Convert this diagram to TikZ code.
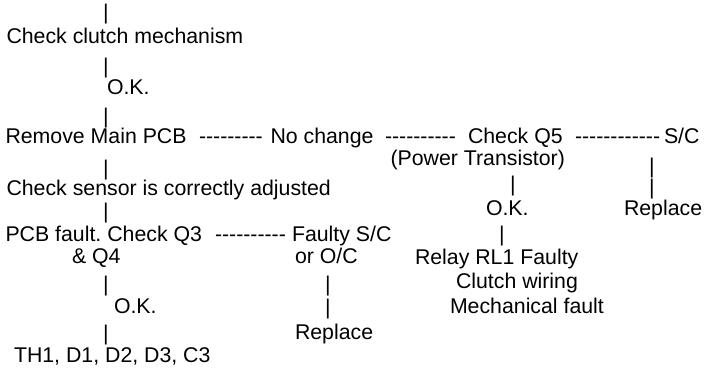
\documentclass[tikz,border=0pt]{standalone}
\usepackage{fontspec}
\setmainfont{Liberation Sans}
\usepackage{tikz}
\newcommand{\hyph}[1]{\foreach \i in {1,...,#1}{-\kern0pt}}
\tikzset{
    txt/.style={anchor=base west, inner sep=0pt, outer sep=0pt},
    bar/.style={anchor=base, inner sep=0pt, outer sep=0pt},
}

\begin{document}
\frenchspacing
\begin{tikzpicture}[x=1pt, y=-1pt, font=\fontsize{21.3}{25}\selectfont]
    \useasboundingbox (0,0) rectangle (704,371);

    % left column
    \node[bar] (b0) at (106,19.5) {|};
    \node[txt] (clutch) at (6.5,44) {Check clutch mechanism};
    \node[bar] (b1) at (106,73.5) {|};
    \node[txt] (ok1) at (107,95) {O.K.};
    \node[bar] (b2) at (106,124) {|};
    \node[txt] (remove) at (5.5,143.5) {Remove Main PCB};
    \node[bar] (b3) at (106,175.5) {|};
    \node[txt] (sensor) at (6.5,196) {Check sensor is correctly adjusted};
    \node[bar] (b4) at (106,219) {|};
    \node[txt] (pcb) at (5.5,242) {PCB fault. Check Q3};
    \node[txt] (q4) at (72,264) {\& Q4};
    \node[bar] (b5) at (106,291) {|};
    \node[txt] (ok3) at (114,313) {O.K.};
    \node[bar] (b6) at (106,341) {|};
    \node[txt] (th) at (14,362.5) {TH1, D1, D2, D3, C3};

    % main row
    \node[txt] (d1) at (199,143.5) {\hyph{9}};
    \node[txt] (nochange) at (270.5,143.5) {No change};
    \node[txt] (d2) at (385,143.5) {\hyph{10}};
    \node[txt] (checkq) at (468,143.5) {Check Q5};
    \node[txt] (d3) at (575,143.5) {\hyph{12}};
    \node[txt] (sc) at (664,143.5) {S/C};
    \node[txt] (power) at (390.5,166) {(Power Transistor)};

    % Q5 branch
    \node[bar] (bp) at (513,192) {|};
    \node[txt] (ok2) at (486,216) {O.K.};
    \node[bar] (bo) at (502,242) {|};
    \node[txt] (relay) at (415,265) {Relay RL1 Faulty};
    \node[txt] (wiring) at (456,289) {Clutch wiring};
    \node[txt] (mech) at (450,313) {Mechanical fault};

    % S/C branch
    \node[bar] (bs1) at (652,174) {|};
    \node[bar] (bs2) at (652,195) {|};
    \node[txt] (rep1) at (624,215.5) {Replace};

    % Q3/Q4 branch
    \node[txt] (d4) at (215,242) {\hyph{10}};
    \node[txt] (faulty) at (292,242) {Faulty S/C};
    \node[txt] (oroc) at (295,264) {or O/C};
    \node[bar] (bf1) at (328,291) {|};
    \node[bar] (bf2) at (328,315) {|};
    \node[txt] (rep2) at (295,339) {Replace};
\end{tikzpicture}
\end{document}
